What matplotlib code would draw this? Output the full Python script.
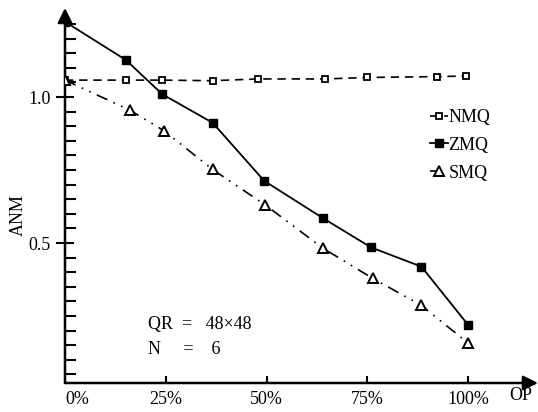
import matplotlib.pyplot as plt
import numpy as np

plt.rcParams['font.family'] = ['Liberation Serif', 'DejaVu Serif']

# values
nmq_x = [0, 15.1, 24.1, 36.6, 47.9, 64.5, 74.9, 92.2, 99.4]
nmq_y = [1.058, 1.058, 1.058, 1.056, 1.062, 1.062, 1.067, 1.070, 1.072]

zmq_x = [0, 15.1, 24.1, 36.6, 49.4, 64.0, 75.9, 88.4, 100]
zmq_y = [1.258, 1.127, 1.010, 0.912, 0.713, 0.585, 0.485, 0.419, 0.219]

smq_x = [0, 16.1, 24.5, 36.6, 49.7, 64.0, 76.3, 88.2, 100]
smq_y = [1.058, 0.955, 0.885, 0.752, 0.630, 0.482, 0.379, 0.288, 0.157]

x_ticks = [0, 25, 50, 75, 100]
x_labels = ['0%', '25%', '50%', '75%', '100%']
y_major = [0.5, 1.0]
y_labels = ['0.5', '1.0']

fs = 13

fig = plt.figure(figsize=(5.38, 4.12), dpi=100)
ax = fig.add_axes([65 / 538, 29 / 412, 473 / 538, 375 / 412])
ax.set_xlim(0, 117.3)
ax.set_ylim(0.0206, 1.305)

for s in ax.spines.values():
    s.set_visible(False)

# axes with arrow heads
ax.annotate('', xy=(1.0, 0), xytext=(0, 0), xycoords='axes fraction',
            arrowprops=dict(arrowstyle='-|>', color='black', lw=1.8,
                            mutation_scale=22, shrinkA=0, shrinkB=0))
ax.annotate('', xy=(0, 1.0), xytext=(0, 0), xycoords='axes fraction',
            arrowprops=dict(arrowstyle='-|>', color='black', lw=1.8,
                            mutation_scale=22, shrinkA=0, shrinkB=0))

ax.plot(nmq_x, nmq_y, color='black', lw=1.2, dashes=(5, 3.5), marker='s',
        markersize=4.5, markerfacecolor='white', markeredgewidth=1.3, label='NMQ', zorder=3)
ax.plot(zmq_x, zmq_y, color='black', lw=1.3, marker='s', markersize=5.5,
        label='ZMQ', zorder=3)
ax.plot(smq_x, smq_y, color='black', lw=1.2, dashes=(7, 4, 1, 4, 1, 4), marker='^',
        markersize=7, markerfacecolor='white', markeredgewidth=1.4, label='SMQ', zorder=3)

ax.set_xticks(x_ticks)
ax.set_xticklabels(x_labels, fontsize=fs)
ax.get_xticklabels()[0].set_horizontalalignment('left')
ax.tick_params(axis='x', direction='in', length=5, width=1.5, pad=6)
ax.xaxis.get_major_ticks()[0].tick1line.set_visible(False)

minor = [round(v, 2) for v in np.arange(0.05, 1.26, 0.05) if round(v, 2) not in (0.5, 1.0)]
ax.set_yticks(y_major)
ax.set_yticklabels(y_labels, fontsize=fs)
ax.set_yticks(minor, minor=True)
ax.tick_params(axis='y', which='major', direction='inout', length=13, width=1.5, pad=4)
ax.tick_params(axis='y', which='minor', direction='in', length=8, width=1.5)

fig.text(18 / 538, 0.478, 'ANM', rotation=90, fontsize=fs, ha='center', va='center')
ax.text(0.94, -0.032, 'OP', transform=ax.transAxes, fontsize=fs, va='center')

ax.text(0.175, 0.155, 'QR  =   48×48', transform=ax.transAxes, fontsize=fs, va='center')
ax.text(0.175, 0.088, 'N     =    6', transform=ax.transAxes, fontsize=fs, va='center')

ax.legend(loc='upper left', bbox_to_anchor=(0.753, 0.755), frameon=False, fontsize=fs,
          handlelength=1.0, handletextpad=0.0, labelspacing=0.6, borderpad=0)

fig.savefig('out.png', dpi=100)
